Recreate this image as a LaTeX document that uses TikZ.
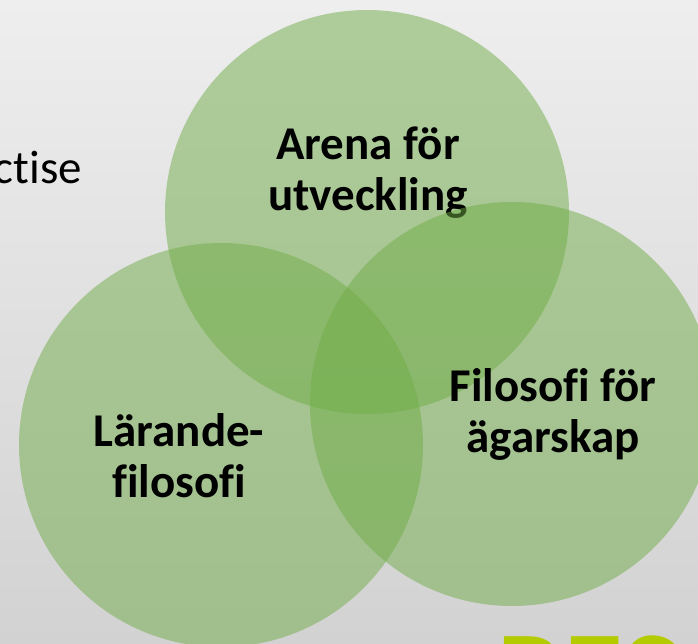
\documentclass[tikz,border=0pt]{standalone}
\usepackage{fontspec}
\setmainfont{Carlito}[Ligatures=NoCommon]
\usepackage{xcolor}
\definecolor{RingGreen}{HTML}{70AD47}
\definecolor{SlideTop}{HTML}{EEEEEE}
\definecolor{SlideBottom}{HTML}{D3D2D2}
\definecolor{LogoGreen}{HTML}{B4CB00}
\usetikzlibrary{calc,positioning}

\begin{document}
\begin{tikzpicture}[
  x=1pt,y=-1pt,
  ring/.style={circle,fill=RingGreen,fill opacity=0.5,minimum size=404pt,inner sep=0pt},
  ringtext/.style={anchor=base,align=center,inner sep=0pt,font=\fontsize{47}{51}\selectfont\bfseries,text=black},
  slidetext/.style={font=\fontsize{47}{51}\selectfont,text=black,inner sep=0pt}
]
\shade[top color=SlideTop,bottom color=SlideBottom] (0,0) rectangle (698,643);
\useasboundingbox (0,0) rectangle (698,643);
\node[slidetext,anchor=base east] (prac) at (82,183) {ctise};
\node[ring] (arena) at (367,212) {};
\node[ringtext] (arenatext) at ($(arena)+(1,-2)$) {Arena för\\utveckling};
\node[ring] (larande) at (221,445) {};
\node[ring] (agar) at (512,404) {};
\node[ringtext] (larandetext) at ($(larande)+(-42,52)$) {Lärande-\\filosofi};
\node[ringtext] (agartext) at ($(agar)+(41,48)$) {Filosofi för\\ägarskap};
\node[anchor=base west,inner sep=0pt,text=LogoGreen,font=\fontsize{120}{120}\selectfont\bfseries] (logo) at (497,714) {RES};
\end{tikzpicture}
\end{document}
